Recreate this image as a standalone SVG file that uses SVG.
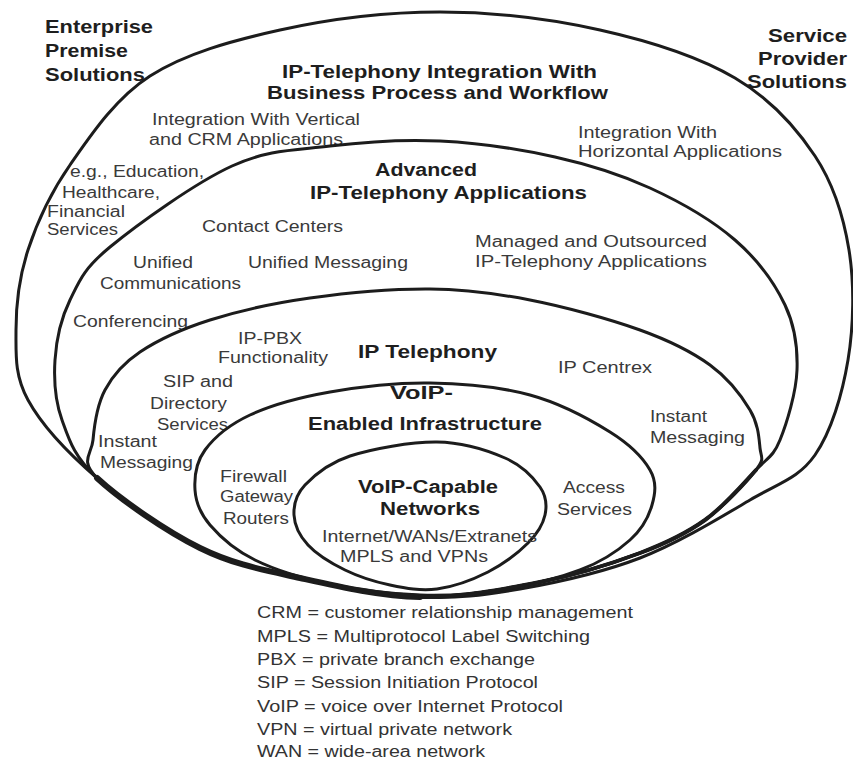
<svg xmlns="http://www.w3.org/2000/svg" width="853" height="764" viewBox="0 0 853 764">
  <style>
    .ring { fill: none; stroke: #1c1c1c; stroke-width: 3; stroke-linejoin: round; }
    .band { fill: none; stroke: #1c1c1c; stroke-linecap: round; }
    .h { font-family: "Liberation Sans", Arial, sans-serif; font-weight: bold; font-size: 18px; fill: #1e1e1e; }
    .t { font-family: "Liberation Sans", Arial, sans-serif; font-size: 16px; fill: #3a3a3a; }
    .k { font-family: "Liberation Sans", Arial, sans-serif; font-size: 16px; fill: #333333; }
  </style>
  <rect width="853" height="764" fill="#ffffff"/>

  <!-- Outer ring: IP-Telephony integration with business process and workflow -->
  <g id="ring-integration">
    <path class="ring" d="M97,478 C68.3,453.3 41.5,424.7 28,400 S16,355 16,330 S19,277.5 28,250 S49.7,194 70,165 S115,98.5 150,76 S231.7,40.7 280,30 S386.7,12 440,12 S550.8,19 600,30 S699.2,57 735,78 S796,127.3 815,156 S843.5,216 849,250 S853.7,325.8 848,360 S831.3,431.7 815,455 S779.2,482.8 750,500 S678.3,543.2 640,558 S556.7,582.5 520,589 S456.7,598.8 420,597 S336.7,586.2 300,578 S233.8,564.7 200,548 S125.7,502.7 97,478 Z"/>
    <text class="h" x="282" y="78" textLength="315" lengthAdjust="spacingAndGlyphs">IP-Telephony Integration With</text>
    <text class="h" x="267" y="99" textLength="341" lengthAdjust="spacingAndGlyphs">Business Process and Workflow</text>
    <text class="t" x="152" y="125" textLength="208" lengthAdjust="spacingAndGlyphs">Integration With Vertical</text>
    <text class="t" x="149" y="145" textLength="194" lengthAdjust="spacingAndGlyphs">and CRM Applications</text>
    <text class="t" x="578" y="138" textLength="139" lengthAdjust="spacingAndGlyphs">Integration With</text>
    <text class="t" x="578" y="157" textLength="204" lengthAdjust="spacingAndGlyphs">Horizontal Applications</text>
    <text class="t" x="70" y="177" textLength="134" lengthAdjust="spacingAndGlyphs">e.g., Education,</text>
    <text class="t" x="62" y="198" textLength="98" lengthAdjust="spacingAndGlyphs">Healthcare,</text>
    <text class="t" x="47" y="217" textLength="78" lengthAdjust="spacingAndGlyphs">Financial</text>
    <text class="t" x="47" y="235" textLength="71" lengthAdjust="spacingAndGlyphs">Services</text>
  </g>

  <!-- Advanced IP-Telephony applications -->
  <g id="ring-applications">
    <path class="ring" d="M97,478 C74,456.7 69,439.7 62,420 S53.7,380 55,360 S60.8,318.8 70,300 S83,269.3 110,247 S195.3,182.8 232,166 S295.3,150.2 330,146 S402.5,139.2 440,141 S520,149.2 555,157 S620,174.2 650,188 S712.5,220.5 735,240 S774.7,283.3 785,305 S797.8,347.5 797,370 S786.8,423.3 780,440 S768.5,456.7 756,470 S724.3,506.2 705,520 S667.5,542.7 640,553 S576.7,574.7 540,582 S460,597.7 420,597 S336.7,586.2 300,578 S233.8,564.7 200,548 S120,499.3 97,478 Z"/>
    <text class="h" x="375" y="176" textLength="102" lengthAdjust="spacingAndGlyphs">Advanced</text>
    <text class="h" x="310" y="199" textLength="277" lengthAdjust="spacingAndGlyphs">IP-Telephony Applications</text>
    <text class="t" x="202" y="232" textLength="141" lengthAdjust="spacingAndGlyphs">Contact Centers</text>
    <text class="t" x="475" y="247" textLength="232" lengthAdjust="spacingAndGlyphs">Managed and Outsourced</text>
    <text class="t" x="475" y="267" textLength="232" lengthAdjust="spacingAndGlyphs">IP-Telephony Applications</text>
    <text class="t" x="133" y="268" textLength="60" lengthAdjust="spacingAndGlyphs">Unified</text>
    <text class="t" x="100" y="289" textLength="141" lengthAdjust="spacingAndGlyphs">Communications</text>
    <text class="t" x="248" y="268" textLength="160" lengthAdjust="spacingAndGlyphs">Unified Messaging</text>
    <text class="t" x="73" y="327" textLength="115" lengthAdjust="spacingAndGlyphs">Conferencing</text>
  </g>

  <!-- IP Telephony -->
  <g id="ring-ip-telephony">
    <path class="ring" d="M97,478 C79.2,460 91.7,454.7 93,440 S97.2,404.7 105,390 S122.5,363.7 140,352 S181.7,329 210,320 S273.3,303.2 310,298 S393.3,288.7 430,289 S495,293.2 530,300 S610,319.2 640,330 S691.7,351.7 710,365 S741.7,396.2 750,410 S759,438 760,448 S765.2,458 756,470 S724.3,506.2 705,520 S667.5,542.7 640,553 S576.7,574.7 540,582 S460,597.7 420,597 S336.7,586.2 300,578 S233.8,564.7 200,548 S114.8,496 97,478 Z"/>
    <text class="h" x="358" y="358" textLength="139" lengthAdjust="spacingAndGlyphs">IP Telephony</text>
    <text class="t" x="238" y="344" textLength="64" lengthAdjust="spacingAndGlyphs">IP-PBX</text>
    <text class="t" x="218" y="363" textLength="110" lengthAdjust="spacingAndGlyphs">Functionality</text>
    <text class="t" x="163" y="387" textLength="70" lengthAdjust="spacingAndGlyphs">SIP and</text>
    <text class="t" x="150" y="409" textLength="77" lengthAdjust="spacingAndGlyphs">Directory</text>
    <text class="t" x="157" y="430" textLength="71" lengthAdjust="spacingAndGlyphs">Services</text>
    <text class="t" x="98" y="447" textLength="59" lengthAdjust="spacingAndGlyphs">Instant</text>
    <text class="t" x="100" y="468" textLength="93" lengthAdjust="spacingAndGlyphs">Messaging</text>
    <text class="t" x="558" y="373" textLength="94" lengthAdjust="spacingAndGlyphs">IP Centrex</text>
    <text class="t" x="650" y="422" textLength="57" lengthAdjust="spacingAndGlyphs">Instant</text>
    <text class="t" x="650" y="443" textLength="95" lengthAdjust="spacingAndGlyphs">Messaging</text>
  </g>

  <!-- VoIP-enabled infrastructure -->
  <g id="ring-infrastructure">
    <path class="ring" d="M430,383 C463.3,383.5 500,386.8 530,395 S590,419.5 610,432 S643,457.8 650,470 S655.3,493.3 652,505 S642,529.2 630,540 S601.7,561.7 580,570 S526.7,585.8 500,590 S448.3,596 420,595 S357.5,589.8 330,584 S275,569.8 255,560 S220,536.7 210,525 S195.8,502.5 195,490 S195.8,462.5 205,450 S229.2,424.7 250,415 S300,397.3 330,392 S396.7,382.5 430,383 Z"/>
    <text class="h" x="390" y="399" textLength="63" lengthAdjust="spacingAndGlyphs">VoIP-</text>
    <text class="h" x="308" y="430" textLength="234" lengthAdjust="spacingAndGlyphs">Enabled Infrastructure</text>
    <text class="t" x="220" y="482" textLength="67" lengthAdjust="spacingAndGlyphs">Firewall</text>
    <text class="t" x="220" y="502" textLength="73" lengthAdjust="spacingAndGlyphs">Gateway</text>
    <text class="t" x="223" y="524" textLength="66" lengthAdjust="spacingAndGlyphs">Routers</text>
    <text class="t" x="563" y="493" textLength="62" lengthAdjust="spacingAndGlyphs">Access</text>
    <text class="t" x="557" y="515" textLength="75" lengthAdjust="spacingAndGlyphs">Services</text>
  </g>

  <!-- VoIP-capable networks (core) -->
  <g id="ring-networks">
    <path class="ring" d="M437,442 C462.8,442.3 487.8,450.5 505,458 S533.3,477.5 540,487 S547,505.7 545,515 S537.5,533.5 528,543 S503.2,564.3 488,572 S453.3,586.8 437,589 S405.3,588.2 390,585 S358.7,576.7 345,570 S316.5,554.2 308,545 S294.5,525 294,515 S295.7,494.8 305,485 S328,463.2 350,456 S411.2,441.7 437,442 Z"/>
    <text class="h" x="358" y="493" textLength="140" lengthAdjust="spacingAndGlyphs">VoIP-Capable</text>
    <text class="h" x="380" y="515" textLength="100" lengthAdjust="spacingAndGlyphs">Networks</text>
    <text class="t" x="322" y="542" textLength="215" lengthAdjust="spacingAndGlyphs">Internet/WANs/Extranets</text>
    <text class="t" x="340" y="562" textLength="148" lengthAdjust="spacingAndGlyphs">MPLS and VPNs</text>
  </g>

  <!-- Shared lower edges where the rings run together -->
  <g id="shared-edges">
    <path class="band" stroke-width="6" d="M97,478 C120,499.3 166.2,531.3 200,548 C233.8,564.7 263.3,569.8 300,578 C336.7,586.2 380,596.3 420,597"/>
    <path class="band" stroke-width="4" d="M756,470 C743.5,483.3 724.3,506.2 705,520 C685.7,533.8 667.5,542.7 640,553 C612.5,563.3 576.7,574.7 540,582 C503.3,589.3 460,597.7 420,597"/>
  </g>

  <!-- Side captions -->
  <g id="side-enterprise">
    <text class="h" x="45" y="33" textLength="108" lengthAdjust="spacingAndGlyphs">Enterprise</text>
    <text class="h" x="45" y="57" textLength="83" lengthAdjust="spacingAndGlyphs">Premise</text>
    <text class="h" x="45" y="81" textLength="100" lengthAdjust="spacingAndGlyphs">Solutions</text>
  </g>
  <g id="side-provider">
    <text class="h" x="768" y="42" textLength="79" lengthAdjust="spacingAndGlyphs">Service</text>
    <text class="h" x="758" y="65" textLength="89" lengthAdjust="spacingAndGlyphs">Provider</text>
    <text class="h" x="747" y="88" textLength="100" lengthAdjust="spacingAndGlyphs">Solutions</text>
  </g>

  <!-- Abbreviations -->
  <g id="legend">
    <text class="k" x="257" y="618" textLength="376" lengthAdjust="spacingAndGlyphs">CRM = customer relationship management</text>
    <text class="k" x="257" y="642" textLength="333" lengthAdjust="spacingAndGlyphs">MPLS = Multiprotocol Label Switching</text>
    <text class="k" x="257" y="665" textLength="278" lengthAdjust="spacingAndGlyphs">PBX = private branch exchange</text>
    <text class="k" x="257" y="688" textLength="281" lengthAdjust="spacingAndGlyphs">SIP = Session Initiation Protocol</text>
    <text class="k" x="257" y="712" textLength="306" lengthAdjust="spacingAndGlyphs">VoIP = voice over Internet Protocol</text>
    <text class="k" x="257" y="735" textLength="255" lengthAdjust="spacingAndGlyphs">VPN = virtual private network</text>
    <text class="k" x="257" y="757" textLength="228" lengthAdjust="spacingAndGlyphs">WAN = wide-area network</text>
  </g>
</svg>
